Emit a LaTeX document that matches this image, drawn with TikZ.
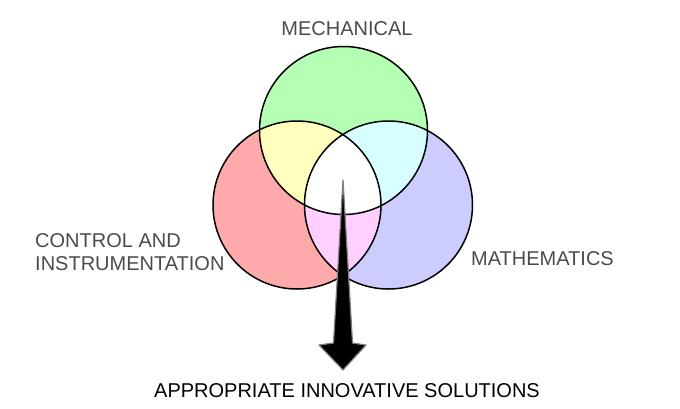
\documentclass[tikz,border=0pt]{standalone}
\usepackage{fontspec}
\setmainfont{Liberation Sans}

\definecolor{mechgreen}{RGB}{181,255,181}
\definecolor{ctrlred}{RGB}{255,170,170}
\definecolor{mathblue}{RGB}{204,204,255}
\definecolor{mixyellow}{RGB}{255,255,190}
\definecolor{mixcyan}{RGB}{215,255,255}
\definecolor{mixpink}{RGB}{255,208,255}
\definecolor{labelgray}{RGB}{75,75,75}

\begin{document}
\begin{tikzpicture}[x=1pt, y=-1pt,
    area label/.style={font=\fontsize{20}{23}\selectfont, text=labelgray, align=left, inner sep=0pt},
    ring/.style={black, line width=1.5pt}]
        \useasboundingbox (0,0) rectangle (680,408);

        \coordinate (mech) at (343.5,130.5);
        \coordinate (ctrl) at (297,205);
        \coordinate (math) at (388.5,205);

        % single sets
        \fill[mechgreen] (mech) circle (84pt);
        \fill[ctrlred] (ctrl) circle (84pt);
        \fill[mathblue] (math) circle (84pt);

        % overlaps
        \begin{scope}
            \clip (mech) circle (84pt);
            \fill[mixyellow] (ctrl) circle (84pt);
            \fill[mixcyan] (math) circle (84pt);
        \end{scope}
        \begin{scope}
            \clip (ctrl) circle (84pt);
            \fill[mixpink] (math) circle (84pt);
        \end{scope}
        \begin{scope}
            \clip (mech) circle (84pt);
            \clip (ctrl) circle (84pt);
            \fill[white] (math) circle (84pt);
        \end{scope}

        \draw[ring] (mech) circle (84pt);
        \draw[ring] (ctrl) circle (84pt);
        \draw[ring] (math) circle (84pt);

        % arrow
        \coordinate (tip) at (343,180);
        \coordinate (point) at (343,370);
        \filldraw[black, draw=gray, line width=1.2pt, line join=round]
            (tip) -- (352.5,343) -- (366,345) -- (point) -- (319,345) -- (333.5,343) -- cycle;

        \node[area label] (mechanical) at (347,29) {MECHANICAL};
        \node[area label, anchor=west] (control) at (35,252.5) {CONTROL AND\\INSTRUMENTATION};
        \node[area label, anchor=west] (mathematics) at (471,259) {MATHEMATICS};
        \node[area label, text=black] (solutions) at (347,391) {APPROPRIATE INNOVATIVE SOLUTIONS};
    \end{tikzpicture}
\end{document}
